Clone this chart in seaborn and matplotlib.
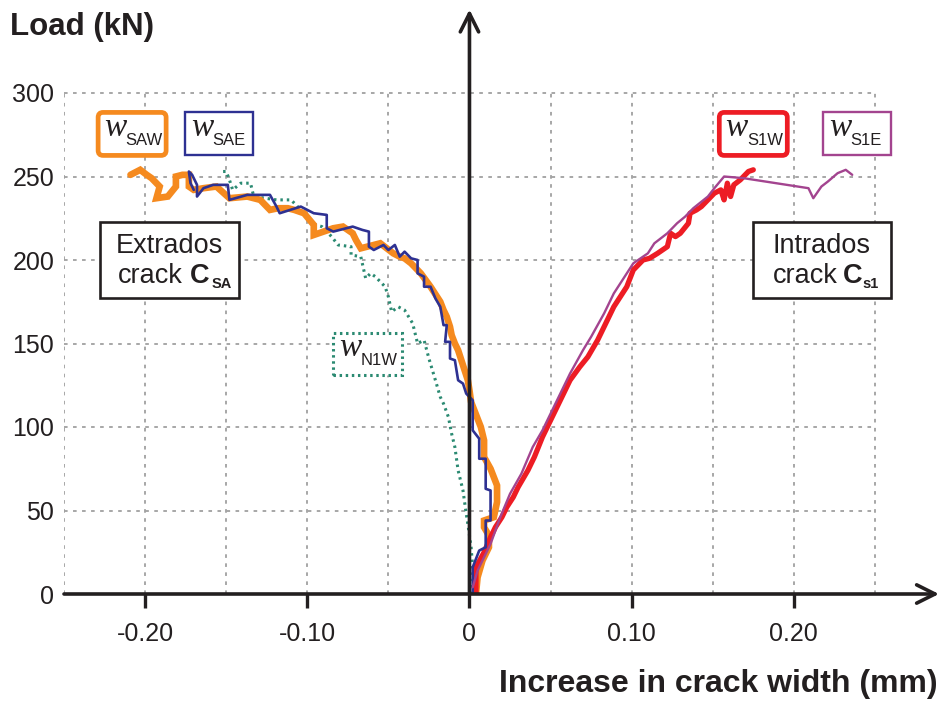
import numpy as np
import pandas as pd
import seaborn as sns
import matplotlib
matplotlib.use("Agg")
import matplotlib.pyplot as plt
from matplotlib import transforms
from matplotlib.patches import FancyBboxPatch

# ---- measured crack-width increments (mm) vs. applied load (kN) ----
saw_x = [0.004, 0.005, 0.008, 0.012, 0.012, 0.009, 0.009, 0.015, 0.017, 0.017,
         0.015, 0.013, 0.009, 0.009, 0.007, 0.005, 0.003, 0.001, 0.000, -0.001,
         -0.003, -0.005, -0.007, -0.009, -0.011, -0.012, -0.014, -0.016, -0.018, -0.020,
         -0.024, -0.027, -0.030, -0.033, -0.036, -0.040, -0.043, -0.047, -0.051, -0.055,
         -0.059, -0.063, -0.067, -0.070, -0.072, -0.078, -0.084, -0.090, -0.096, -0.096,
         -0.102, -0.108, -0.112, -0.118, -0.123, -0.129, -0.137, -0.148, -0.156, -0.164,
         -0.170, -0.173, -0.173, -0.177, -0.181, -0.181, -0.186, -0.193, -0.191, -0.196,
         -0.199, -0.203, -0.209]
saw_y = [0, 10, 20, 28, 35, 40, 44, 46, 55, 65,
         70, 75, 82, 92, 100, 105, 110, 115, 122, 128,
         134, 140, 146, 150, 155, 160, 166, 170, 175, 178,
         184, 188, 192, 195, 198, 201, 202, 204, 207, 210,
         209, 208, 207, 212, 216, 220, 219, 217, 215, 221,
         228, 230, 231, 231, 230, 236, 238, 237, 244, 243,
         242, 244, 251, 251, 250, 244, 238, 237, 244, 249,
         251, 254, 251]

sae_x = [0.002, 0.002, 0.006, 0.010, 0.010, 0.013, 0.013, 0.010, 0.010, 0.006,
         0.006, 0.002, 0.002, -0.002, -0.004, -0.007, -0.009, -0.012, -0.012, -0.015,
         -0.014, -0.016, -0.018, -0.021, -0.024, -0.028, -0.028, -0.032, -0.032, -0.036,
         -0.040, -0.043, -0.046, -0.050, -0.053, -0.059, -0.062, -0.062, -0.066, -0.072,
         -0.084, -0.088, -0.088, -0.096, -0.104, -0.117, -0.119, -0.123, -0.137, -0.148,
         -0.149, -0.158, -0.164, -0.168, -0.168, -0.171, -0.173, -0.172, -0.170]
sae_y = [0, 16, 26, 28, 44, 44, 62, 63, 81, 81,
         93, 98, 116, 120, 126, 128, 140, 141, 151, 151,
         161, 161, 172, 177, 184, 184, 190, 192, 200, 201,
         205, 202, 209, 206, 209, 206, 208, 217, 218, 220,
         217, 219, 227, 228, 232, 228, 232, 239, 239, 236,
         245, 245, 243, 238, 245, 251, 253, 246, 242]

n1w_x = [0.001, 0.002, 0.002, 0.001, -0.001, -0.002, -0.004, -0.007, -0.009, -0.011,
         -0.013, -0.016, -0.018, -0.021, -0.025, -0.028, -0.032, -0.035, -0.040, -0.044,
         -0.048, -0.050, -0.052, -0.058, -0.061, -0.064, -0.067, -0.073, -0.073, -0.081,
         -0.085, -0.091, -0.098, -0.102, -0.110, -0.119, -0.133, -0.135, -0.141, -0.146,
         -0.148, -0.150, -0.154]
n1w_y = [0, 8, 16, 28, 42, 48, 62, 74, 88, 96,
         106, 114, 118, 128, 141, 152, 150, 162, 170, 172,
         169, 178, 184, 190, 192, 189, 202, 203, 208, 209,
         214, 220, 222, 228, 236, 236, 238, 246, 246, 242,
         248, 253, 253]

s1w_x = [0.004, 0.004, 0.009, 0.013, 0.016, 0.020, 0.023, 0.027, 0.030, 0.036,
         0.040, 0.045, 0.050, 0.056, 0.062, 0.068, 0.073, 0.079, 0.084, 0.089,
         0.093, 0.097, 0.101, 0.107, 0.111, 0.116, 0.122, 0.124, 0.127, 0.130,
         0.135, 0.136, 0.140, 0.143, 0.147, 0.151, 0.155, 0.157, 0.159, 0.161,
         0.163, 0.167, 0.172, 0.175]
s1w_y = [0, 16, 25, 34, 40, 46, 52, 58, 64, 74,
         82, 94, 104, 116, 128, 136, 142, 152, 162, 172,
         178, 184, 194, 200, 201, 204, 208, 216, 214, 216,
         222, 228, 230, 232, 236, 240, 242, 236, 246, 238,
         245, 248, 253, 254]

s1e_x = [0.002, 0.005, 0.013, 0.019, 0.025, 0.032, 0.039, 0.045, 0.050, 0.057,
         0.062, 0.070, 0.075, 0.083, 0.089, 0.093, 0.097, 0.101, 0.110, 0.114,
         0.122, 0.128, 0.133, 0.138, 0.147, 0.151, 0.157, 0.169, 0.209, 0.212,
         0.217, 0.221, 0.227, 0.232, 0.236]
s1e_y = [4, 14, 30, 46, 60, 72, 88, 98, 108, 122,
         132, 146, 154, 168, 180, 186, 192, 198, 204, 210,
         216, 222, 226, 231, 238, 243, 250, 249, 243, 237,
         244, 247, 252, 254, 251]

x_ticks = [-0.20, -0.10, 0.0, 0.10, 0.20]
x_tick_labels = ["-0.20", "-0.10", "0", "0.10", "0.20"]
y_ticks = [0, 50, 100, 150, 200, 250, 300]

# ---- styling ----
sns.set_theme(style="white")
plt.rcParams["font.family"] = ["Liberation Sans", "DejaVu Sans"]

INK = "#231f20"
ORANGE = "#f58a1f"
NAVY = "#2e3192"
RED = "#ed1c24"
PURPLE = "#a3448f"
TEAL = "#2b8a72"
GRID = "#a0a0a0"

X0, X1 = -0.25, 0.2895
Y0, Y1 = 0, 350

fig = plt.figure(figsize=(9.42, 7.02), dpi=100)
ax = fig.add_axes([64 / 942, 108 / 702, 875 / 942, 584.5 / 702])
ax.set_xlim(X0, X1)
ax.set_ylim(Y0, Y1)
for s in ax.spines.values():
    s.set_visible(False)

# dotted reference grid, limited to the 0.25 mm x 300 kN field
for gx in np.arange(-0.25, 0.2501, 0.05):
    if abs(gx) > 1e-9:
        ax.plot([gx, gx], [0, 300], color=GRID, lw=1.3, ls=(0, (2, 3)), zorder=1)
for gy in y_ticks[1:]:
    ax.plot([-0.25, 0.25], [gy, gy], color=GRID, lw=1.3, ls=(0, (2, 3)), zorder=1)

# ---- data series ----
def series(x, y, **kw):
    df = pd.DataFrame({"w": x, "P": y})
    sns.lineplot(data=df, x="w", y="P", sort=False, estimator=None, ax=ax, **kw)

series(n1w_x, n1w_y, color=TEAL, lw=2.2, linestyle=(0, (0.8, 1.3)), zorder=3)
series(saw_x, saw_y, color=ORANGE, lw=4.8, zorder=4, solid_joinstyle="miter")
series(sae_x, sae_y, color=NAVY, lw=1.9, zorder=5)
series(s1w_x, s1w_y, color=RED, lw=3.8, zorder=4)
series(s1e_x, s1e_y, color=PURPLE, lw=1.7, zorder=5)

# ---- axes drawn as arrows through the origin ----
arrow_style = "->,head_length=1.1,head_width=0.55"
ax.annotate("", xy=(X1, 0), xytext=(X0, 0), annotation_clip=False, zorder=8,
            arrowprops=dict(arrowstyle=arrow_style, color=INK, lw=2.6,
                            shrinkA=0, shrinkB=0))
ax.annotate("", xy=(0, Y1), xytext=(0, 0), annotation_clip=False, zorder=8,
            arrowprops=dict(arrowstyle=arrow_style, color=INK, lw=2.6,
                            shrinkA=0, shrinkB=0))

ax.set_xticks(x_ticks)
ax.set_xticklabels(x_tick_labels)
ax.set_yticks(y_ticks)
ax.tick_params(axis="x", direction="out", length=10, width=2.4, color=INK,
               pad=10, labelsize=18, labelcolor=INK, bottom=True)
ax.tick_params(axis="y", length=0, pad=7, labelsize=18, labelcolor=INK)
ax.set_xlabel("")
ax.set_ylabel("")

fig.text(10 / 942, 1 - 27 / 702, "Load (kN)", fontsize=22.5, fontweight="bold",
         color=INK, ha="left", va="center")
fig.text(938 / 942, 1 - 684 / 702, "Increase in crack width (mm)", fontsize=23,
         fontweight="bold", color=INK, ha="right", va="center")

# ---- framed labels (frames sized in pixels, anchored at a data point) ----
PX = 0.72  # points per pixel at 100 dpi


def frame(x, y, w_px, h_px, color, lw, ls="solid", rounded=False):
    trans = fig.dpi_scale_trans + transforms.ScaledTranslation(x, y, ax.transData)
    style = "round,pad=0,rounding_size=0.05" if rounded else "square,pad=0"
    ax.add_patch(FancyBboxPatch((-w_px / 200, -h_px / 200), w_px / 100, h_px / 100,
                                boxstyle=style, transform=trans, fc="white",
                                ec=color, lw=lw, ls=ls, zorder=9, clip_on=False))


def piece(x, y, text, dx_px, dy_px, **kw):
    ax.annotate(text, xy=(x, y), xytext=(dx_px * PX, dy_px * PX),
                textcoords="offset points", va="baseline", zorder=10,
                color=INK, annotation_clip=False, **kw)


def tag(x, y, sub, color, lw, w_px=68, h_px=43, ls="solid", rounded=False):
    frame(x, y, w_px, h_px, color, lw, ls, rounded)
    piece(x, y, "w", -28, -2, fontfamily="Liberation Serif", fontstyle="italic",
          fontsize=24, ha="left")
    piece(x, y, sub, -6.5, -11, fontsize=12, ha="left")


tag(-0.2080, 275.5, "SAW", ORANGE, 3.4, rounded=True)
tag(-0.1546, 275.5, "SAE", NAVY, 1.7)
tag(0.1750, 275.5, "S1W", RED, 3.4, rounded=True)
tag(0.2389, 275.5, "S1E", PURPLE, 1.7)
tag(-0.0630, 144.0, "N1W", TEAL, 2.2, w_px=69, h_px=42, ls=(0, (0.8, 1.2)))


def crack_box(x, y, word, sub, w_px, x_crack, x_c, x_sub):
    frame(x, y, w_px, 76, INK, 1.9)
    piece(x, y, word, 0, 7, fontsize=19.5, ha="center")
    piece(x, y, "crack", x_crack, -23, fontsize=19.5, ha="left")
    piece(x, y, "C", x_c, -23, fontsize=19.5, fontweight="bold", ha="left")
    piece(x, y, sub, x_sub, -28, fontsize=10.5, fontweight="bold", ha="left")


crack_box(-0.1849, 200.0, "Extrados", "SA", 139, -52, 20, 42)
crack_box(0.2173, 200.0, "Intrados", "s1", 138, -49, 21, 41)

fig.savefig("out.png", dpi=100, facecolor="white")
